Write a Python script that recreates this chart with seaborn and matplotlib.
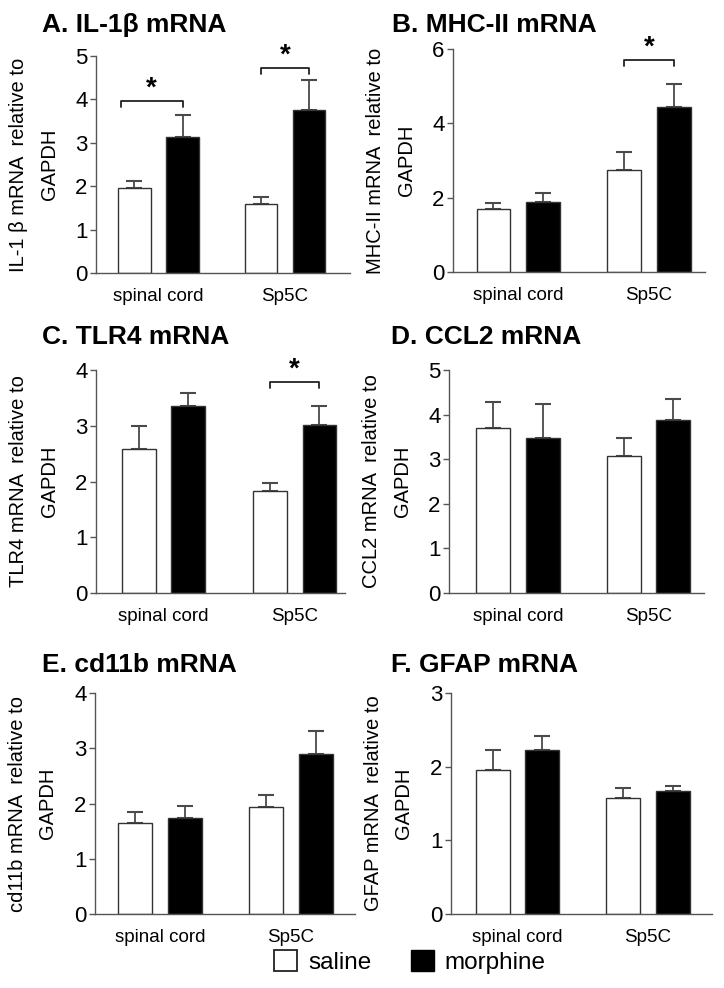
import numpy as np
import pandas as pd
import seaborn as sns
import matplotlib
matplotlib.use("Agg")
import matplotlib.pyplot as plt
from matplotlib.patches import Patch

sns.set_theme(style="white")
plt.rcParams['font.family'] = ['Liberation Sans', 'DejaVu Sans']
plt.rcParams['text.color'] = 'black'

regions = ["spinal cord", "Sp5C"]
treatments = ["saline", "morphine"]

titles = ["A. IL-1β mRNA", "B. MHC-II mRNA", "C. TLR4 mRNA",
          "D. CCL2 mRNA", "E. cd11b mRNA", "F. GFAP mRNA"]
ylabels = ["IL-1 β mRNA  relative to\nGAPDH", "MHC-II mRNA  relative to\nGAPDH",
           "TLR4 mRNA  relative to\nGAPDH", "CCL2 mRNA  relative to\nGAPDH",
           "cd11b mRNA  relative to\nGAPDH", "GFAP mRNA  relative to\nGAPDH"]

# means: [saline sc, morphine sc, saline Sp5C, morphine Sp5C]
il1b_mean = [1.96, 3.14, 1.58, 3.75]
il1b_err = [0.15, 0.51, 0.17, 0.69]
mhc_mean = [1.69, 1.89, 2.74, 4.45]
mhc_err = [0.17, 0.24, 0.50, 0.60]
tlr4_mean = [2.59, 3.35, 1.83, 3.01]
tlr4_err = [0.41, 0.23, 0.15, 0.34]
ccl2_mean = [3.69, 3.47, 3.07, 3.88]
ccl2_err = [0.60, 0.77, 0.41, 0.48]
cd11b_mean = [1.64, 1.73, 1.94, 2.89]
cd11b_err = [0.20, 0.22, 0.22, 0.43]
gfap_mean = [1.95, 2.22, 1.57, 1.67]
gfap_err = [0.28, 0.20, 0.14, 0.07]

means = [il1b_mean, mhc_mean, tlr4_mean, ccl2_mean, cd11b_mean, gfap_mean]
errs = [il1b_err, mhc_err, tlr4_err, ccl2_err, cd11b_err, gfap_err]
ymax = [5, 6, 4, 5, 4, 3]
yticks = [[0, 1, 2, 3, 4, 5], [0, 2, 4, 6], [0, 1, 2, 3, 4],
          [0, 1, 2, 3, 4, 5], [0, 1, 2, 3, 4], [0, 1, 2, 3]]
# significance brackets: (panel, region index, bracket height)
sig_panels = [0, 0, 1, 2]
sig_regions = [0, 1, 1, 1]
sig_heights = [3.96, 4.72, 5.70, 3.78]

W, H = 724, 988
# axes boxes in pixels: left, right, top, bottom
boxes = [(96, 350, 56, 273), (453, 705, 49, 272),
         (96, 345, 370, 593), (449, 704, 370, 593),
         (95, 355, 693, 914), (451, 712, 693, 914)]
xlims = [(-0.494, 1.514), (-0.50, 1.43), (-0.515, 1.385),
         (-0.53, 1.425), (-0.496, 1.49), (-0.51, 1.49)]
title_pos = [(42, 25), (392, 25), (42, 337), (391, 337), (42, 665), (391, 665)]

fig = plt.figure(figsize=(W / 100, H / 100), dpi=100)
axes = []
for i in range(6):
    l, r, t, b = boxes[i]
    ax = fig.add_axes([l / W, 1 - b / H, (r - l) / W, (b - t) / H])
    axes.append(ax)
    df = pd.DataFrame({
        "region": [regions[0], regions[0], regions[1], regions[1]],
        "treatment": [treatments[0], treatments[1], treatments[0], treatments[1]],
        "value": means[i],
    })
    sns.barplot(data=df, x="region", y="value", hue="treatment",
                order=regions, hue_order=treatments,
                palette={"saline": "white", "morphine": "black"},
                edgecolor="#333333", linewidth=1.0, width=0.76, gap=0.32,
                errorbar=None, legend=False, ax=ax, zorder=2)
    bars = [p for p in ax.patches]
    # patches are hue-major: saline sc, saline Sp5C, morphine sc, morphine Sp5C
    order_idx = [0, 2, 1, 3]
    xs = [bars[k].get_x() + bars[k].get_width() / 2 for k in order_idx]
    ax.errorbar(xs, means[i], yerr=[np.zeros(4), errs[i]], fmt="none",
                ecolor="#4a4a4a", elinewidth=1.3, capsize=6, capthick=1.5,
                zorder=1)
    ax.set_ylim(0, ymax[i])
    ax.set_xlim(*xlims[i])
    ax.set_yticks(yticks[i])
    ax.set_xlabel("")
    ax.set_ylabel(ylabels[i], fontsize=14.5, color="black", labelpad=12,
                  linespacing=1.75)
    ax.tick_params(axis="y", which="both", left=True, length=4, width=1,
                   color="#555555", labelsize=16, pad=2, labelcolor="black")
    ax.tick_params(axis="x", bottom=False, labelsize=13.5, pad=5, labelcolor="black")
    for s in ["top", "right"]:
        ax.spines[s].set_visible(False)
    for s in ["left", "bottom"]:
        ax.spines[s].set_color("#555555")
        ax.spines[s].set_linewidth(1.0)
    ax.patch.set_alpha(0)
    fig.text(title_pos[i][0] / W, 1 - title_pos[i][1] / H, titles[i],
             fontsize=19, fontweight="bold", ha="left", va="center", color="black")
    for j in range(len(sig_panels)):
        if sig_panels[j] != i:
            continue
        rg = sig_regions[j]
        x1 = xs[2 * rg]
        x2 = xs[2 * rg + 1]
        if i == 0 and rg == 0:
            x1 = bars[0].get_x() + 0.02
        hgt = sig_heights[j]
        dh = ymax[i] * 0.025
        ax.plot([x1, x1, x2, x2], [hgt - dh, hgt, hgt, hgt - dh],
                color="#222222", lw=1.3, clip_on=False)
        ax.text((x1 + x2) / 2, hgt, "*", ha="center",
                va="bottom", fontsize=20, fontweight="bold", color="black")

handles = [Patch(facecolor="white", edgecolor="#222222", linewidth=1.3),
           Patch(facecolor="black", edgecolor="black")]
fig.legend(handles, treatments, loc="center", bbox_to_anchor=(410 / W, 1 - 962 / H),
           ncol=2, frameon=False, fontsize=17.5, handlelength=0.95,
           handleheight=0.95, handletextpad=0.45, columnspacing=1.6,
           labelcolor="black")

fig.savefig("out.png", dpi=100, facecolor="white")
